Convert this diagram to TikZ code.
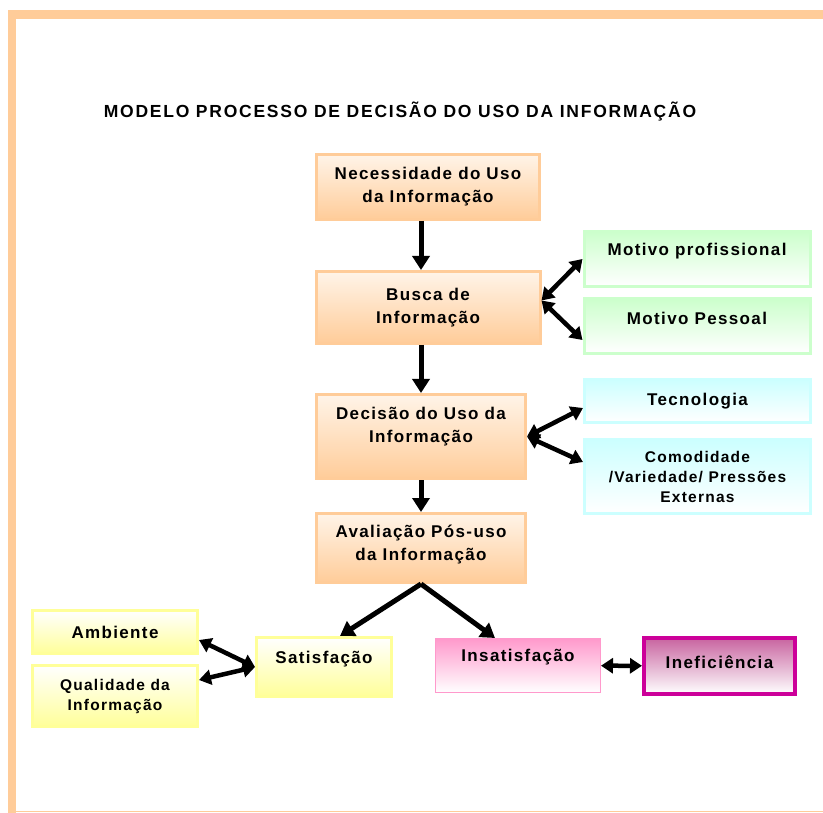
\documentclass[tikz,border=0pt]{standalone}
\usepackage{fontspec}
\setmainfont{Liberation Sans}
\newfontfamily\spacedsans[LetterSpace=8]{Liberation Sans}
\newfontfamily\titlesans[LetterSpace=10]{Liberation Sans}
\usetikzlibrary{arrows.meta,positioning}

\definecolor{peach}{RGB}{255,204,153}
\definecolor{peachtop}{RGB}{255,244,232}
\definecolor{mint}{RGB}{204,255,204}
\definecolor{aqua}{RGB}{204,255,255}
\definecolor{lemon}{RGB}{255,255,153}
\definecolor{rose}{RGB}{255,153,204}
\definecolor{plum}{RGB}{204,0,153}
\definecolor{mauve}{RGB}{200,100,160}

\newcommand{\boxfont}{\spacedsans\bfseries\fontsize{17}{23}\selectfont}
\newcommand{\smallboxfont}{\spacedsans\bfseries\fontsize{15.5}{20}\selectfont}

\tikzstyle{box} = [rectangle, text centered, align=center, line width=3pt, font=\boxfont]
\tikzstyle{box-peach} = [box, draw=peach, top color=peachtop, bottom color=peach]
\tikzstyle{box-mint} = [box, draw=mint, top color=mint, bottom color=white]
\tikzstyle{box-aqua} = [box, draw=aqua, top color=aqua, bottom color=white]
\tikzstyle{box-lemon} = [box, draw=lemon, top color=white, bottom color=lemon]
\tikzstyle{arrow} = [line width=5pt, -{Triangle[width=17pt,length=14pt]}]
\tikzstyle{darrow} = [line width=4.5pt, {Triangle[width=15pt,length=12pt]}-{Triangle[width=15pt,length=12pt]}]

\begin{document}
\begin{tikzpicture}[x=1pt, y=-1pt, node distance=60pt]
  \useasboundingbox (0,0) rectangle (823,813);
  % frame
  \fill [peach] (8,10) rectangle (823,19);
  \fill [peach] (8,10) rectangle (16,813);
  \draw [peach, line width=1.5pt] (8,811.5) -- (823,811.5);

  \node (title) at (400,112) {\titlesans\bfseries\fontsize{17.5}{20}\selectfont MODELO PROCESSO DE DECISÃO DO USO DA INFORMAÇÃO};

  \node (nec) [box-peach, minimum width=223pt, minimum height=65pt] at (428,187) {Necessidade do Uso\\da Informação};
  \node (busca) [box-peach, minimum width=224pt, minimum height=72pt, below of=nec, yshift=-60.5pt] {Busca de\\Informação};
  \node (decisao) [box-peach, minimum width=209pt, minimum height=84pt, below of=busca, xshift=-7pt, yshift=-69pt] {\raisebox{10pt}[\height][\depth]{\begin{tabular}{@{}c@{}}Decisão do Uso da\\Informação\end{tabular}}};
  \node (aval) [box-peach, minimum width=209pt, minimum height=69pt, below of=decisao, yshift=-51.5pt] {\raisebox{4pt}[\height][\depth]{\begin{tabular}{@{}c@{}}Avaliação Pós-uso\\da Informação\end{tabular}}};

  \node (motprof) [box-mint, minimum width=226pt, minimum height=55pt, right of=busca, xshift=209pt, yshift=48.5pt] {\raisebox{8pt}[\height][\depth]{Motivo profissional}};
  \node (motpess) [box-mint, minimum width=226pt, minimum height=55pt, below of=motprof, yshift=-7pt] {\raisebox{8pt}[\height][\depth]{Motivo Pessoal}};
  \node (tec) [box-aqua, minimum width=226pt, minimum height=43pt, right of=decisao, xshift=216.5pt, yshift=35.5pt] {Tecnologia};
  \node (comod) [box-aqua, font=\smallboxfont, minimum width=226pt, minimum height=74pt, below of=tec, yshift=-15.5pt] {Comodidade\\/Variedade/ Pressões\\Externas};

  \node (sat) [box-lemon, minimum width=135pt, minimum height=59pt, below of=aval, xshift=-97pt, yshift=-59pt] {\raisebox{8pt}[\height][\depth]{Satisfação}};
  \node (amb) [box-lemon, minimum width=165pt, minimum height=43pt, left of=sat, xshift=-149pt, yshift=35pt] {Ambiente};
  \node (qual) [box-lemon, font=\smallboxfont, minimum width=165pt, minimum height=61pt, below of=amb, yshift=-4pt] {Qualidade da\\Informação};

  \node (insat) [box, draw=rose, line width=1pt, top color=rose, bottom color=white, minimum width=165pt, minimum height=54pt, below of=aval, xshift=97pt, yshift=-57.5pt] {\raisebox{8pt}[\height][\depth]{Insatisfação}};
  \node (inef) [box, draw=plum, line width=4pt, top color=mauve, bottom color=white, minimum width=151pt, minimum height=56pt, right of=insat, xshift=141.5pt, yshift=-0.5pt] {\raisebox{4pt}[\height][\depth]{Ineficiência}};

  \draw [arrow] (nec.south -| aval) -- (busca.north -| aval);
  \draw [arrow] (busca.south -| aval) -- (decisao.north);
  \draw [arrow] (decisao) -- (aval);
  \draw [arrow] (aval.south) -- ([xshift=16pt]sat.north);
  \draw [arrow] (aval.south) -- ([xshift=-23pt]insat.north);
  \draw [darrow] ([yshift=7pt]busca.east) -- (motprof.west);
  \draw [darrow] ([yshift=7pt]busca.east) -- ([yshift=-14pt]motpess.west);
  \draw [darrow] (decisao.east) -- ([yshift=-7pt]tec.west);
  \draw [darrow] (decisao.east) -- ([yshift=14.5pt]comod.west);
  \draw [darrow] (sat.west) -- ([yshift=-8pt]amb.east);
  \draw [darrow] (sat.west) -- ([yshift=16pt]qual.east);
  \draw [darrow] (insat) -- (inef);
\end{tikzpicture}
\end{document}
